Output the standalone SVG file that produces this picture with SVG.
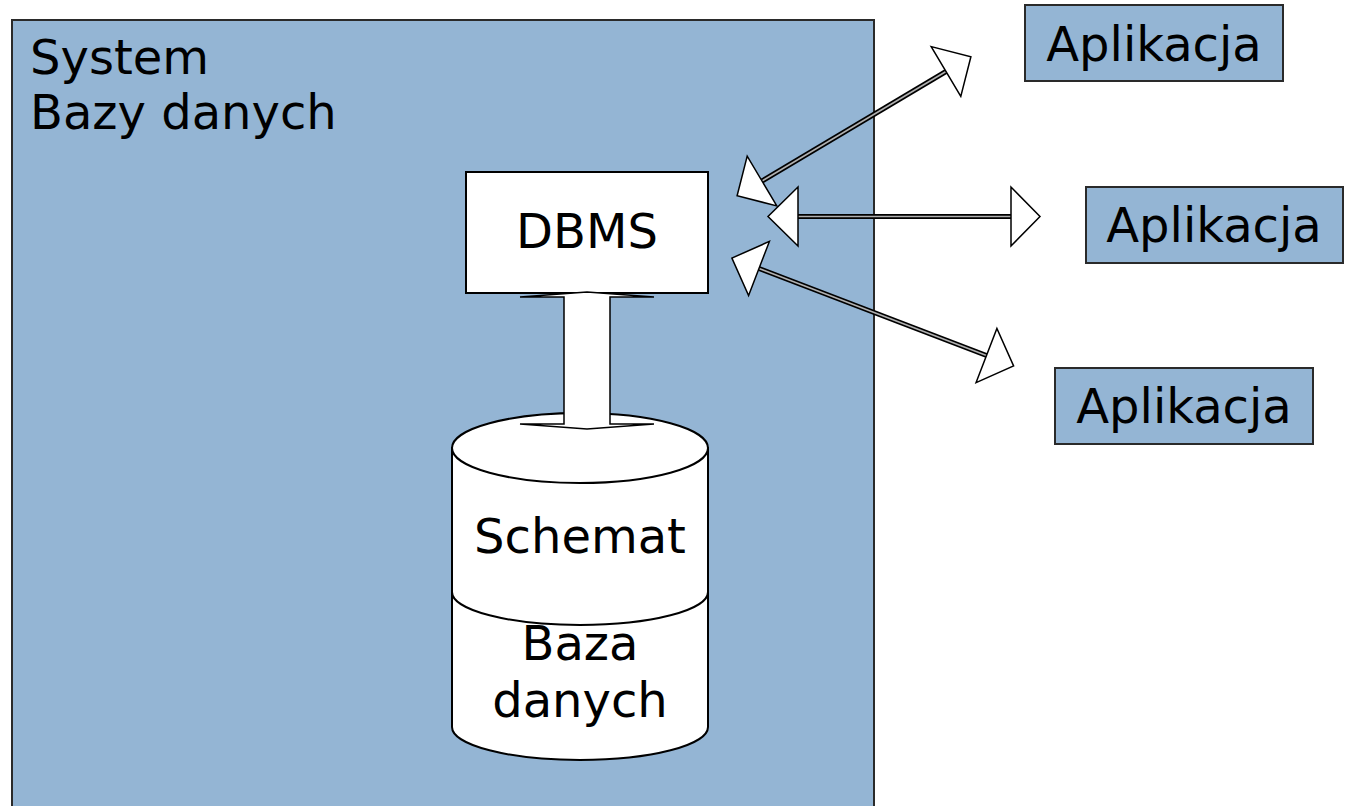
<svg xmlns="http://www.w3.org/2000/svg" width="1349" height="806" viewBox="0 0 1349 806">
<style>
text{font-family:"DejaVu Sans","Verdana",sans-serif;font-size:48px;fill:#000}
.blue{fill:#94b5d4;stroke:#2a2a2a;stroke-width:2}
.white{fill:#fff;stroke:#000;stroke-width:2}
.head{fill:#fff;stroke:#000;stroke-width:1.5;stroke-linejoin:miter}
.shaftO{stroke:#000;stroke-width:5;fill:none}
.shaftI{stroke:#b0b0b0;stroke-width:1.6;fill:none}
</style>
<rect width="1349" height="806" fill="#fff"/>
<g id="system">
<rect class="blue" x="12" y="20" width="862" height="800"/>
<text x="30" y="74">System</text>
<text x="30" y="129">Bazy danych</text>
</g>
<g id="database">
<path class="white" d="M452,448 L452,727 A128,33 0 0 0 708,727 L708,448 Z"/>
<ellipse class="white" cx="580" cy="448" rx="128" ry="35"/>
<path d="M452,592 A128,33 0 0 0 708,592" fill="none" stroke="#000" stroke-width="2"/>
<text x="580" y="553" text-anchor="middle">Schemat</text>
<text x="580" y="660" text-anchor="middle">Baza</text>
<text x="580" y="717" text-anchor="middle">danych</text>
</g>
<g id="dbms">
<rect class="white" x="466" y="172" width="242" height="121"/>
<text x="587" y="248" text-anchor="middle">DBMS</text>
</g>
<g id="app1">
<rect class="blue" x="1025" y="5" width="258" height="76"/>
<text x="1154" y="61" text-anchor="middle">Aplikacja</text>
</g>
<g id="app2">
<rect class="blue" x="1086" y="187" width="257" height="76"/>
<text x="1214" y="242" text-anchor="middle">Aplikacja</text>
</g>
<g id="app3">
<rect class="blue" x="1055" y="368" width="258" height="76"/>
<text x="1184" y="423" text-anchor="middle">Aplikacja</text>
</g>
<g id="connectors">
<polygon class="head" points="587,292 654,297 610,297 610,424 654,424 587,429 520,424 564,424 564,297 520,297"/>
<line class="shaftO" x1="762" y1="181" x2="946" y2="71.5"/>
<line class="shaftI" x1="762" y1="181" x2="946" y2="71.5"/>
<polygon class="head" points="776.8,205.9 747.2,156.1 737.1,195.8"/>
<polygon class="head" points="960.8,96.4 931.2,46.6 970.9,56.7"/>
<line class="shaftO" x1="798" y1="216.5" x2="1011" y2="216.5"/>
<line class="shaftI" x1="798" y1="216.5" x2="1011" y2="216.5"/>
<polygon class="head" points="798,187 798,246 768,216.5"/>
<polygon class="head" points="1011,187 1011,246 1040,216.5"/>
<line class="shaftO" x1="759" y1="268.5" x2="986.5" y2="355.5"/>
<line class="shaftI" x1="759" y1="268.5" x2="986.5" y2="355.5"/>
<polygon class="head" points="748.6,295.6 769.4,241.4 731.9,258.1"/>
<polygon class="head" points="976.1,382.6 996.9,328.4 1013.6,365.9"/>
</g>
</svg>
